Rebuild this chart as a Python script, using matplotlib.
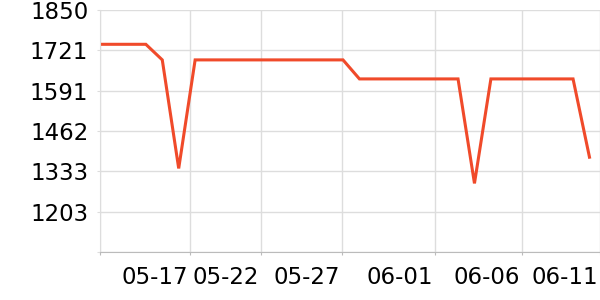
import numpy as np
import matplotlib as mp
import matplotlib.pyplot as plt
from matplotlib.transforms import ScaledTranslation

mp.rcParams['font.family'] = 'DejaVu Sans'
mp.rcParams.update({'font.size': 16.5})

# valors llegits de la imatge (un punt per mostra)
valors = [1740, 1740, 1740, 1740, 1690, 1342, 1690, 1690, 1690, 1690,
          1690, 1690, 1690, 1690, 1690, 1690, 1629, 1629, 1629, 1629,
          1629, 1629, 1629, 1294, 1629, 1629, 1629, 1629, 1629, 1629,
          1378]
x = np.arange(len(valors))

# posicions de les marques de l'eix x (en unitats de mostra)
pos_ticks = [0.21, 5.68, 9.99, 14.95, 20.61, 25.91, 30.64]
etiquetes = ['', '05-17', '05-22', '05-27', '06-01', '06-06', '06-11']

y_ticks = [1074, 1203.33, 1332.67, 1462, 1591.33, 1720.67, 1850]
y_etiq = ['', '1203', '1333', '1462', '1591', '1721', '1850']

fig = plt.figure(figsize=(6, 3), dpi=100)
ax = fig.add_axes([100/600, 48/300, 500/600, 242/300])

ax.plot(x, valors, color='#F04A2A', linewidth=2.2, solid_joinstyle='miter')

ax.set_xlim(pos_ticks[0], pos_ticks[-1])
ax.set_ylim(1074, 1850)
ax.set_xticks(pos_ticks)
ax.set_xticklabels(etiquetes, ha='right')
ax.set_yticks(y_ticks)
ax.set_yticklabels(y_etiq)

ax.grid(True, color='#DDDDDD', linewidth=1)
ax.set_axisbelow(True)
for s in ['top', 'right']:
    ax.spines[s].set_visible(False)
ax.spines['left'].set_color('#DDDDDD')
ax.spines['bottom'].set_color('#BBBBBB')
ax.tick_params(axis='x', length=2.5, pad=7.5, colors='#BBBBBB', labelcolor='black')
ax.tick_params(axis='y', length=2.5, pad=6, colors='#DDDDDD', labelcolor='black')

desp = ScaledTranslation(-2/100, 0, fig.dpi_scale_trans)
for lab in ax.get_xticklabels():
    lab.set_transform(lab.get_transform() + desp)

fig.savefig('out.png', dpi=100)
